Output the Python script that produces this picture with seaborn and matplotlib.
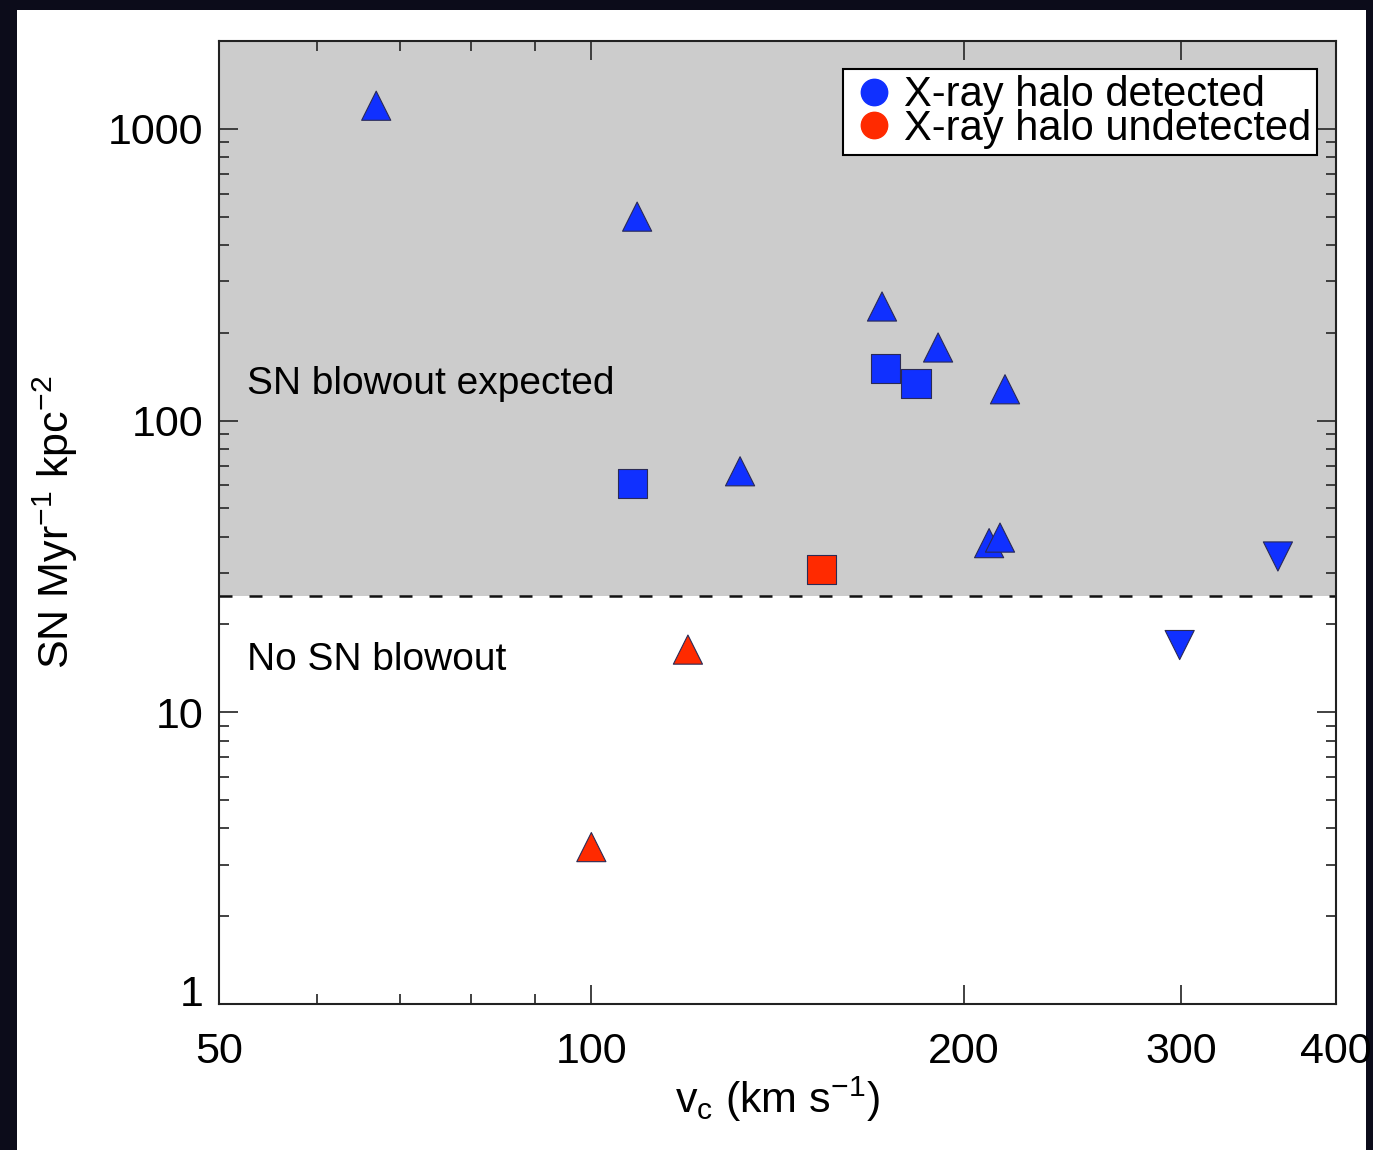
import numpy as np
import pandas as pd
import matplotlib
matplotlib.use("Agg")
import matplotlib.pyplot as plt
from matplotlib.lines import Line2D
from matplotlib.patches import Rectangle
from matplotlib.transforms import ScaledTranslation
from matplotlib.ticker import FixedLocator, FixedFormatter, NullFormatter
import seaborn as sns


# Data
vc = [67.0, 108.9, 171.8, 190.7, 216.0, 131.9, 209.7, 214.0,
      359.0, 299.0,
      107.9, 173.0, 183.0,
      153.6,
      119.7, 100.0]
sn_rate = [1200, 500, 246, 178, 128, 67, 38, 39.7,
           34.2, 17.0,
           60.8, 151, 134,
           30.9,
           16.4, 3.45]
halo = ["detected"] * 13 + ["undetected"] * 3
shape = ["up"] * 8 + ["down"] * 2 + ["square"] * 3 + ["square", "up", "up"]

x_ticks = [50, 100, 200, 300, 400]
x_tick_labels = ["50", "100", "200", "300", "400"]
x_minor = [60, 70, 80, 90]
y_ticks = [1, 10, 100, 1000]
y_tick_labels = ["1", "10", "100", "1000"]
blowout_limit = 25

df = pd.DataFrame({"vc": vc, "sn": sn_rate, "halo": halo, "shape": shape})

blue = "#1030FF"
red = "#FF2A00"

sns.set_style("ticks")
plt.rcParams["font.family"] = ["Liberation Sans", "DejaVu Sans"]
plt.rcParams["mathtext.default"] = "regular"
plt.rcParams["text.color"] = "black"
plt.rcParams["axes.labelcolor"] = "black"
plt.rcParams["xtick.labelcolor"] = "black"
plt.rcParams["ytick.labelcolor"] = "black"

fig = plt.figure(figsize=(13.73, 11.5), dpi=100)
fig.patch.set_facecolor("#0c0c1a")
# white slide panel behind the plot
panel = Rectangle((17 / 1373, 0), 1349 / 1373, 1 - 10 / 1150,
                  transform=fig.transFigure, facecolor="white",
                  edgecolor="none", zorder=-10)
fig.add_artist(panel)

ax = fig.add_axes([219 / 1373, 1 - 1004 / 1150, 1117 / 1373, 963 / 1150])
ax.set_zorder(5)
ax.set_xscale("log")
ax.set_yscale("log")
ax.set_xlim(50, 400)
ax.set_ylim(1, 2000)

ax.axhspan(blowout_limit, 2000, color="#cccccc", zorder=0, lw=0)
ax.axhline(blowout_limit, color="#111111", lw=1.8, dashes=(5.2, 6.8), zorder=1)

sns.scatterplot(data=df, x="vc", y="sn", hue="halo", style="shape",
                palette={"detected": blue, "undetected": red},
                markers={"up": "^", "down": "v", "square": "s"},
                s=440, edgecolor="#2a2a55", linewidth=0.8,
                legend=False, ax=ax, zorder=3)

ax.text(0.025, 0.644, "SN blowout expected", transform=ax.transAxes,
        fontsize=28, va="center", ha="left")
ax.text(0.025, 0.357, "No SN blowout", transform=ax.transAxes,
        fontsize=28, va="center", ha="left")

handles = [Line2D([], [], marker="o", ls="", color=blue, markersize=19),
           Line2D([], [], marker="o", ls="", color=red, markersize=19)]
leg = ax.legend(handles, ["X-ray halo detected", "X-ray halo undetected"],
                loc="upper right", bbox_to_anchor=(0.983, 0.971),
                fontsize=30, frameon=True, fancybox=False,
                labelspacing=-0.15, handletextpad=0.1, handlelength=1.2,
                borderpad=0.15, borderaxespad=0)
leg.get_frame().set_edgecolor("black")
leg.get_frame().set_linewidth(1.5)
leg.get_frame().set_alpha(1)

ax.xaxis.set_major_locator(FixedLocator(x_ticks))
ax.xaxis.set_major_formatter(FixedFormatter(x_tick_labels))
ax.xaxis.set_minor_locator(FixedLocator(x_minor))
ax.xaxis.set_minor_formatter(NullFormatter())
ax.yaxis.set_major_locator(FixedLocator(y_ticks))
ax.yaxis.set_major_formatter(FixedFormatter(y_tick_labels))

ax.tick_params(which="both", direction="in", top=True, right=True,
               color="#333333", width=1.3)
ax.tick_params(which="major", length=14, labelsize=31)
ax.tick_params(which="minor", length=7)
ax.tick_params(axis="x", which="major", pad=20)
ax.tick_params(axis="y", which="major", pad=11)

for sp in ax.spines.values():
    sp.set_linewidth(1.5)
    sp.set_color("#222222")

ax.set_xlabel(r"v$_c$ (km s$^{-1}$)", fontsize=31, labelpad=2)
ax.set_ylabel(r"SN Myr$^{-1}$ kpc$^{-2}$", fontsize=31, labelpad=20)

# the "1" label sits a little above the bottom axis in the original
lab = ax.yaxis.get_major_ticks()[0].label1
lab.set_transform(lab.get_transform() + ScaledTranslation(0, 0.13, fig.dpi_scale_trans))

fig.savefig("out.png", dpi=100, facecolor=fig.get_facecolor())
